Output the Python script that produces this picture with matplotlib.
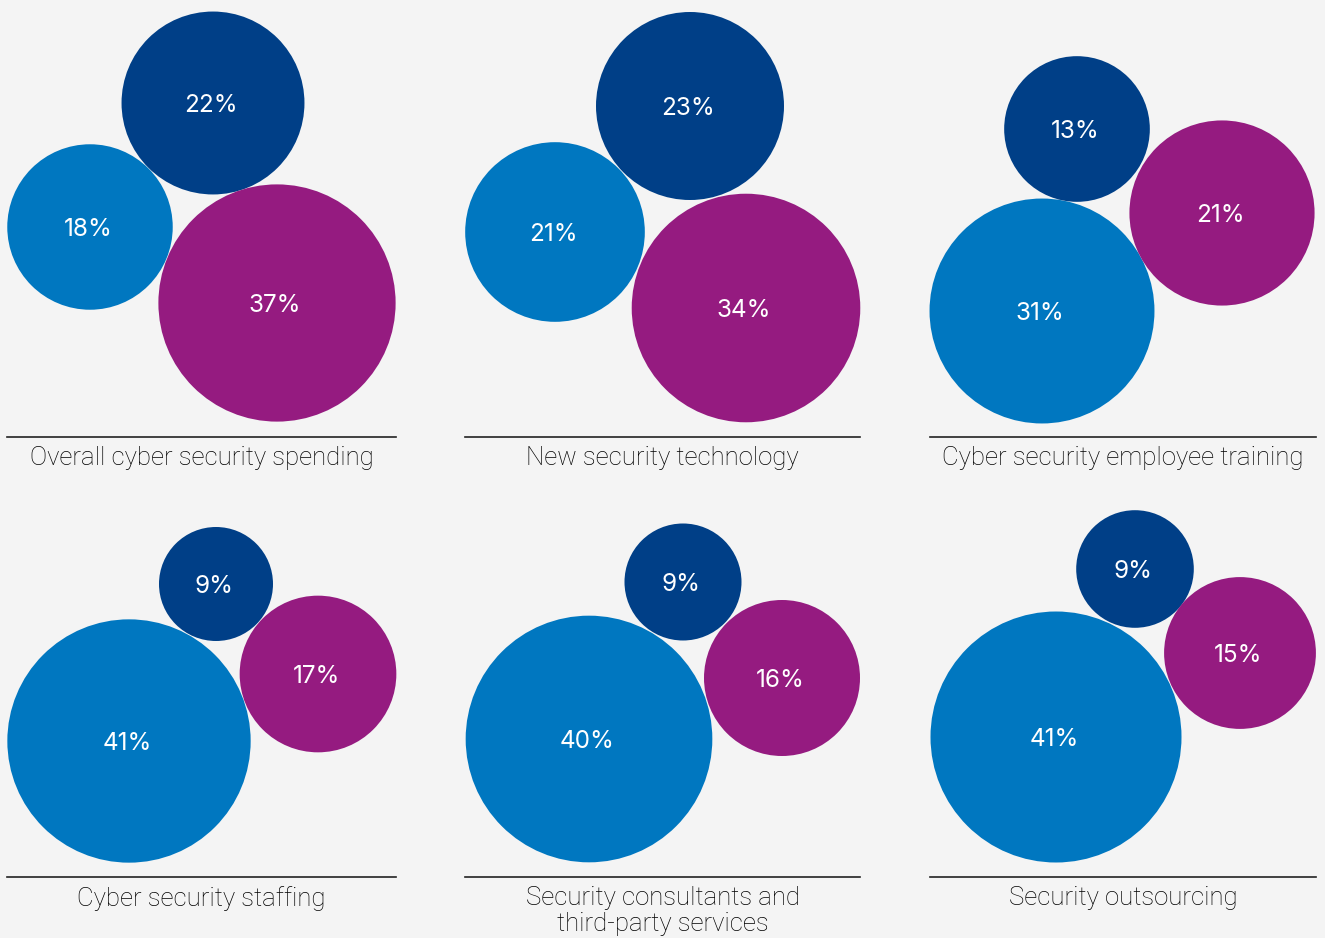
import numpy as np
import matplotlib.pyplot as plt
from matplotlib.patches import Circle

# Data: share of respondents per panel (light blue, dark blue, purple)
titles = [
    "Overall cyber security spending",
    "New security technology",
    "Cyber security employee training",
    "Cyber security staffing",
    "Security consultants and\nthird-party services",
    "Security outsourcing",
]
light_vals = [18, 21, 31, 41, 40, 41]
dark_vals = [22, 23, 13, 9, 9, 9]
purple_vals = [37, 34, 21, 17, 16, 15]

# Layout (pixel coordinates of bubble centres, per panel)
light_xy = [(90, 227), (555, 232), (1042, 311), (129, 741), (589, 739), (1056, 737)]
dark_xy = [(213, 103), (690, 106), (1077, 129), (216, 584), (683, 582), (1135, 569)]
purple_xy = [(277, 303), (746, 308), (1222, 213), (318, 674), (782, 678), (1240, 653)]
panel_scale = [19.5, 19.6, 20.2, 19.0, 19.5, 19.6]  # px per sqrt(percent)
rule_x = [(7, 396), (465, 860), (930, 1316)]
rule_y = [437, 877]
label_top = [446, 886]

LIGHT = "#0077c0"
DARK = "#003f87"
PURPLE = "#951b80"
BG = "#f4f4f4"

plt.rcParams['font.family'] = ['Inter', 'DejaVu Sans']

fig = plt.figure(figsize=(13.25, 9.38), dpi=100, facecolor=BG)
ax = fig.add_axes([0, 0, 1, 1])
ax.set_facecolor(BG)
ax.set_xlim(0, 1325)
ax.set_ylim(938, 0)
ax.set_aspect("equal")
ax.axis("off")

for i in range(6):
    for vals, xy, col in [(light_vals, light_xy, LIGHT),
                          (dark_vals, dark_xy, DARK),
                          (purple_vals, purple_xy, PURPLE)]:
        v = vals[i]
        cx, cy = xy[i]
        ax.add_patch(Circle((cx, cy), panel_scale[i] * np.sqrt(v), color=col, lw=0))
        ax.text(cx - 2, cy + 2.5, f"{v}%", color="white", fontsize=17.5,
                ha="center", va="center", fontweight="normal")

    row, col = divmod(i, 3)
    x0, x1 = rule_x[col]
    ax.plot([x0, x1], [rule_y[row], rule_y[row]], color="#222222", lw=1.2)
    ax.text((x0 + x1) / 2, label_top[row], titles[i], color="#000000",
            fontsize=18.5, ha="center", va="top", fontweight="light",
            family=["Roboto", "DejaVu Sans"], linespacing=1.12)

fig.savefig("out.png", dpi=100, facecolor=BG)
